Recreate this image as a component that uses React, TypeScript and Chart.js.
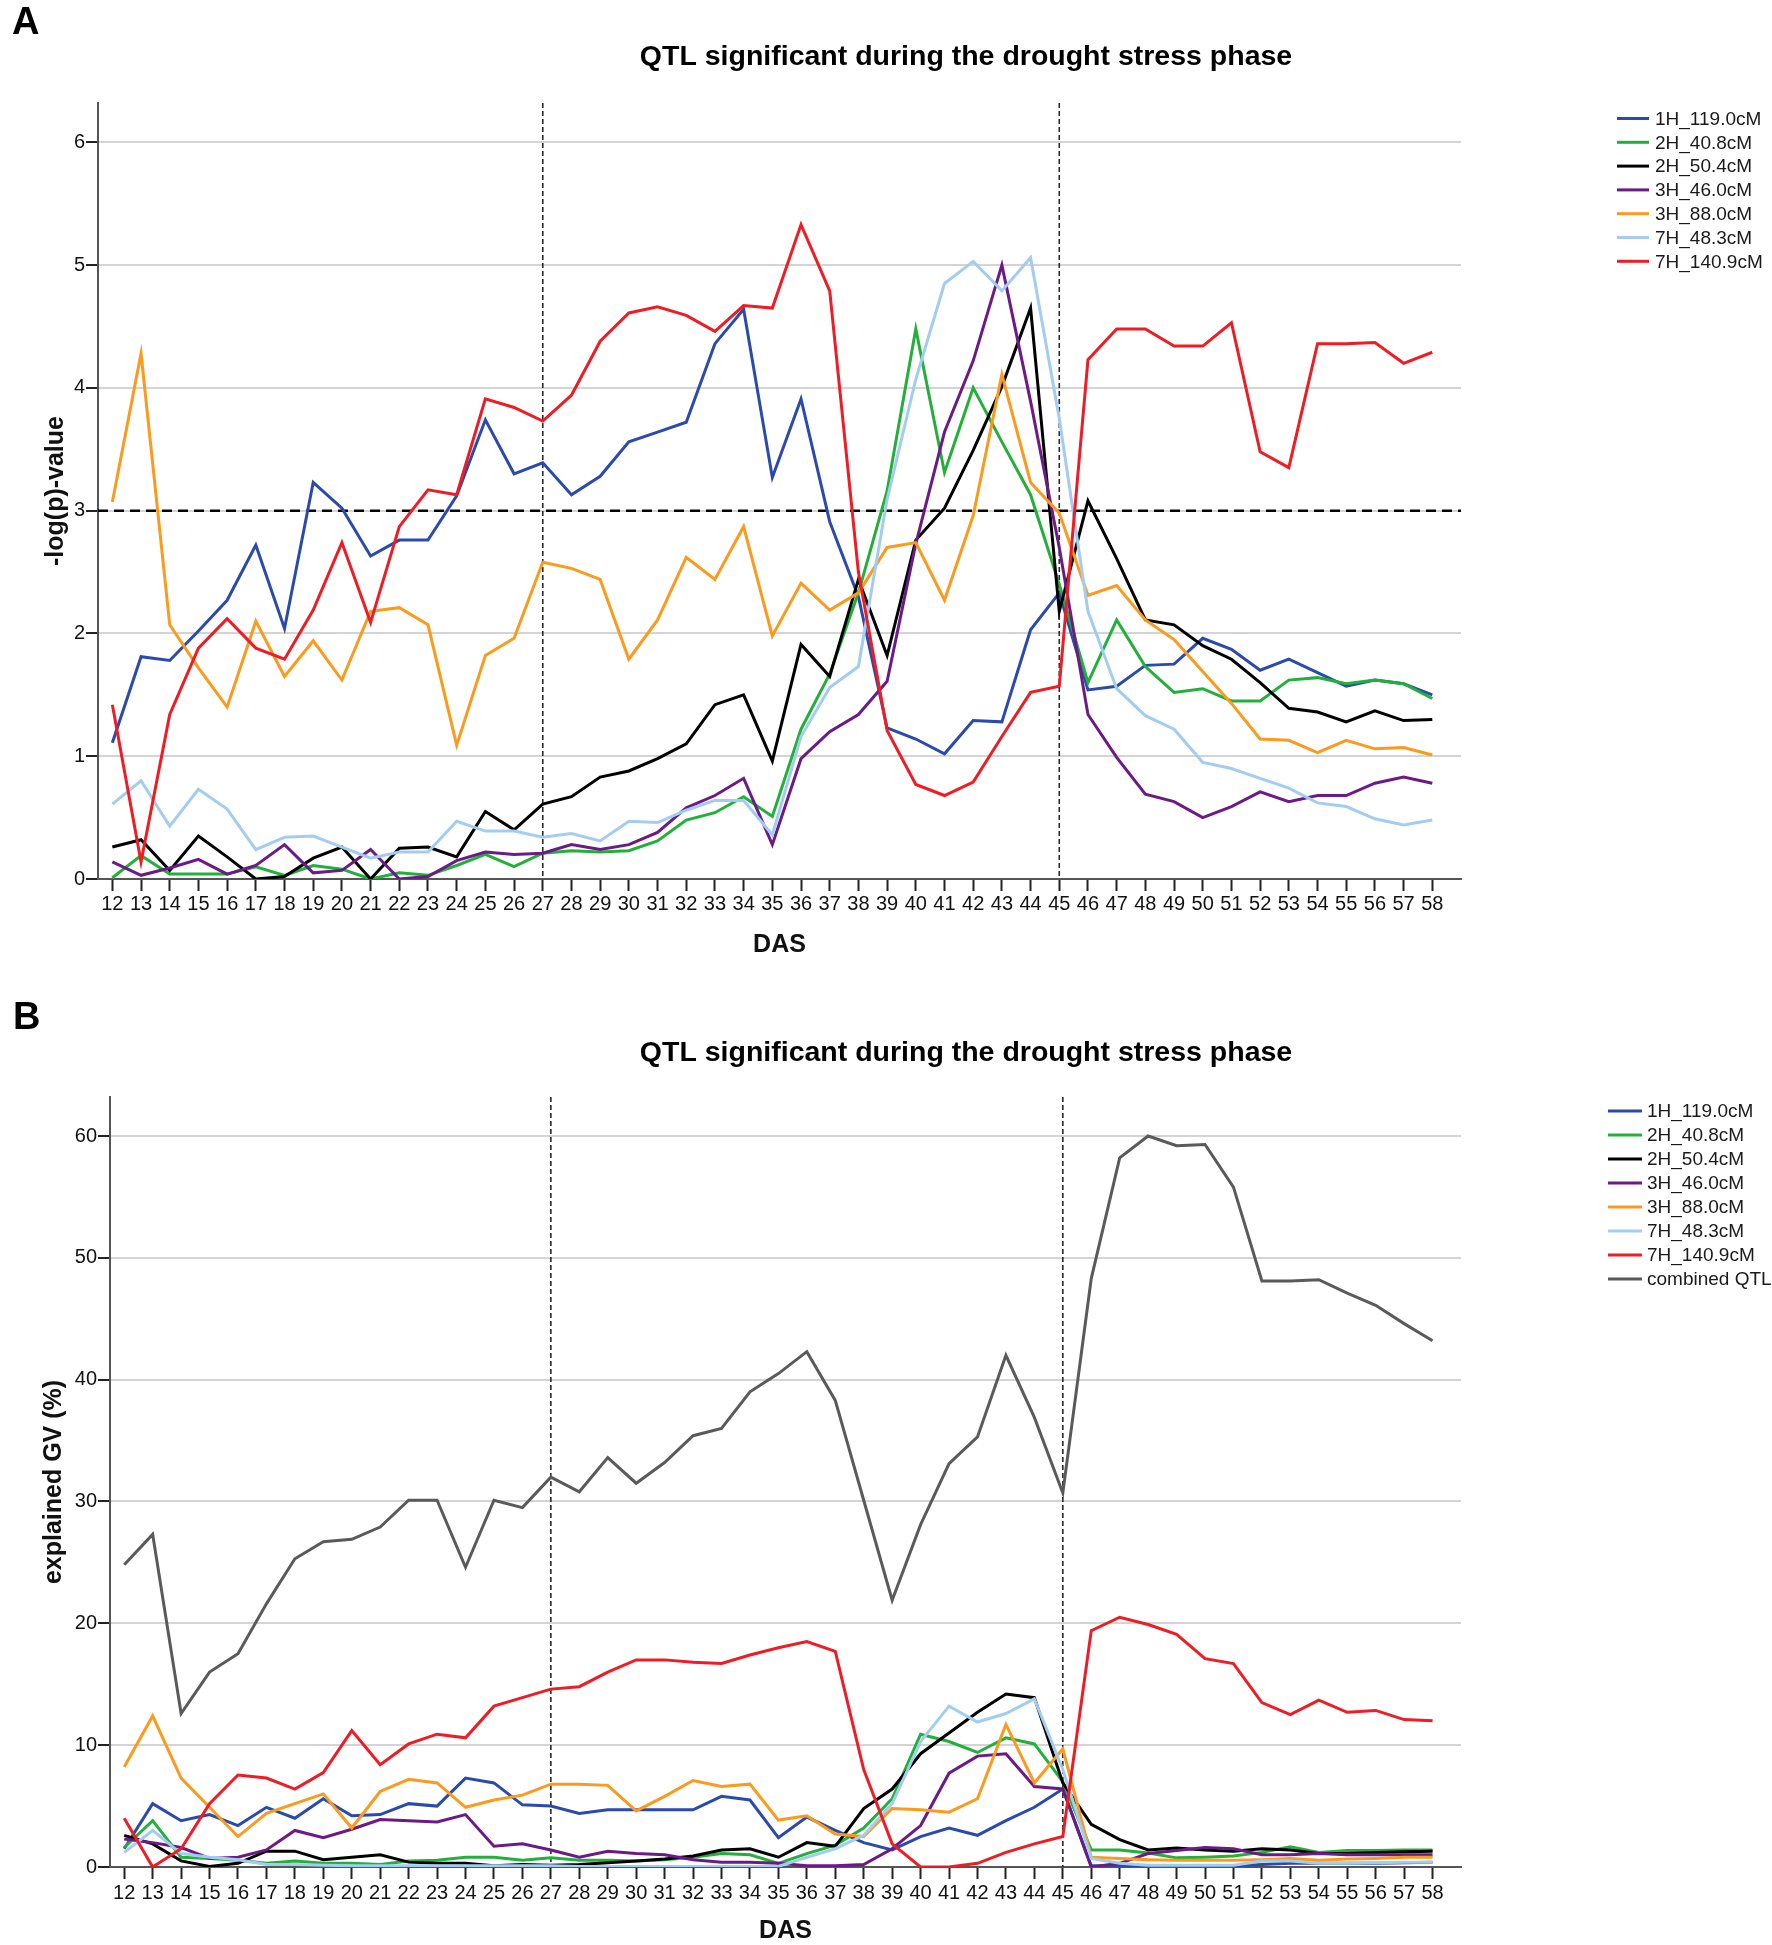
import React, { useEffect, useRef } from "react";
import { Chart, registerables } from "chart.js";

Chart.register(...registerables);

const FONT = "'Liberation Sans', Arial, Helvetica, sans-serif";

// ---------- categories / ticks ----------
const DAYS = [
  12, 13, 14, 15, 16, 17, 18, 19, 20, 21, 22, 23, 24, 25, 26, 27, 28, 29, 30, 31, 32, 33, 34, 35,
  36, 37, 38, 39, 40, 41, 42, 43, 44, 45, 46, 47, 48, 49, 50, 51, 52, 53, 54, 55, 56, 57, 58,
];
const Y_TICKS_A = [0, 1, 2, 3, 4, 5, 6];
const Y_TICKS_B = [0, 10, 20, 30, 40, 50, 60];
const PHASE_LINES = [27, 45];
const THRESHOLD_A = 3;

const NAMES_A = ["1H_119.0cM", "2H_40.8cM", "2H_50.4cM", "3H_46.0cM", "3H_88.0cM", "7H_48.3cM", "7H_140.9cM"];
const NAMES_B = [...NAMES_A, "combined QTL"];

const TITLE = "QTL significant during the drought stress phase";

// ---------- panel A: -log(p)-value ----------
const A_1H_119 = [
  1.11, 1.81, 1.78, 2.02, 2.27, 2.72, 2.04, 3.23, 3.02, 2.63,
  2.76, 2.76, 3.12, 3.74, 3.30, 3.39, 3.13, 3.28, 3.56, 3.64,
  3.72, 4.36, 4.64, 3.27, 3.91, 2.91, 2.30, 1.23, 1.14, 1.02,
  1.29, 1.28, 2.03, 2.33, 1.54, 1.57, 1.74, 1.75, 1.96, 1.87,
  1.70, 1.79, 1.68, 1.57, 1.62, 1.59, 1.50,
];
const A_2H_408 = [
  0.01, 0.19, 0.04, 0.04, 0.04, 0.10, 0.03, 0.11, 0.08, 0.0,
  0.05, 0.03, 0.11, 0.20, 0.10, 0.21, 0.23, 0.22, 0.23, 0.31,
  0.48, 0.54, 0.67, 0.51, 1.22, 1.67, 2.33, 3.16, 4.48, 3.31,
  4.0, 3.56, 3.13, 2.4, 1.60, 2.11, 1.73, 1.52, 1.55, 1.45,
  1.45, 1.62, 1.64, 1.59, 1.62, 1.59, 1.47,
];
const A_2H_504 = [
  0.26, 0.32, 0.07, 0.35, 0.18, 0.0, 0.02, 0.17, 0.26, 0.0,
  0.25, 0.26, 0.18, 0.55, 0.40, 0.61, 0.67, 0.83, 0.88, 0.98,
  1.10, 1.42, 1.50, 0.96, 1.91, 1.65, 2.44, 1.82, 2.76, 3.02,
  3.49, 4.01, 4.65, 2.18, 3.08, 2.61, 2.11, 2.07, 1.90, 1.79,
  1.60, 1.39, 1.36, 1.28, 1.37, 1.29, 1.30,
];
const A_3H_460 = [
  0.14, 0.03, 0.09, 0.16, 0.04, 0.11, 0.28, 0.05, 0.07, 0.24,
  0.0, 0.02, 0.15, 0.22, 0.20, 0.21, 0.28, 0.24, 0.28, 0.38,
  0.58, 0.68, 0.82, 0.28, 0.98, 1.20, 1.34, 1.61, 2.73, 3.64,
  4.22, 5.0, 3.89, 2.7, 1.34, 0.99, 0.69, 0.63, 0.50, 0.59,
  0.71, 0.63, 0.68, 0.68, 0.78, 0.83, 0.78,
];
const A_3H_880 = [
  3.07, 4.28, 2.07, 1.72, 1.40, 2.10, 1.65, 1.94, 1.62, 2.18,
  2.21, 2.07, 1.09, 1.82, 1.96, 2.58, 2.53, 2.44, 1.79, 2.11,
  2.62, 2.44, 2.87, 1.98, 2.41, 2.19, 2.33, 2.70, 2.74, 2.27,
  2.96, 4.11, 3.23, 2.98, 2.31, 2.39, 2.11, 1.95, 1.69, 1.43,
  1.14, 1.13, 1.03, 1.13, 1.06, 1.07, 1.01,
];
const A_7H_483 = [
  0.61, 0.80, 0.43, 0.73, 0.57, 0.24, 0.34, 0.35, 0.26, 0.17,
  0.22, 0.22, 0.47, 0.39, 0.39, 0.34, 0.37, 0.31, 0.47, 0.46,
  0.56, 0.64, 0.64, 0.36, 1.16, 1.56, 1.73, 3.09, 4.07, 4.85,
  5.03, 4.79, 5.06, 3.75, 2.18, 1.55, 1.33, 1.22, 0.95, 0.90,
  0.82, 0.74, 0.62, 0.59, 0.49, 0.44, 0.48,
];
const A_7H_1409 = [
  1.42, 0.14, 1.34, 1.88, 2.12, 1.88, 1.79, 2.19, 2.74, 2.09,
  2.87, 3.17, 3.13, 3.91, 3.84, 3.73, 3.94, 4.38, 4.61, 4.66,
  4.59, 4.46, 4.67, 4.65, 5.33, 4.79, 2.50, 1.21, 0.77, 0.68,
  0.79, 1.16, 1.52, 1.57, 4.23, 4.48, 4.48, 4.34, 4.34, 4.53,
  3.48, 3.35, 4.36, 4.36, 4.37, 4.20, 4.29,
];

// ---------- panel B: explained GV (%) ----------
const B_1H_119 = [
  1.5, 5.2, 3.8, 4.3, 3.4, 4.9, 4.0, 5.6, 4.2, 4.3,
  5.2, 5.0, 7.3, 6.9, 5.1, 5.0, 4.4, 4.7, 4.7, 4.7,
  4.7, 5.8, 5.5, 2.4, 4.1, 3.0, 2.0, 1.4, 2.5, 3.2,
  2.6, 3.8, 4.9, 6.4, 0.1, 0.1, 0.1, 0.1, 0.1, 0.1,
  0.2, 0.3, 0.3, 0.3, 0.3, 0.35, 0.4,
];
const B_2H_408 = [
  1.6, 3.8, 0.8, 0.7, 0.55, 0.3, 0.5, 0.3, 0.3, 0.2,
  0.5, 0.55, 0.8, 0.8, 0.55, 0.75, 0.55, 0.55, 0.5, 0.6,
  0.8, 1.1, 1.0, 0.3, 1.1, 1.8, 3.2, 5.6, 10.9, 10.3,
  9.4, 10.6, 10.1, 7.0, 1.4, 1.4, 1.15, 0.75, 0.8, 0.9,
  1.2, 1.65, 1.2, 1.35, 1.35, 1.4, 1.4,
];
const B_2H_504 = [
  2.6, 1.9, 0.5, 0.05, 0.3, 1.3, 1.3, 0.6, 0.8, 1.0,
  0.4, 0.3, 0.3, 0.1, 0.2, 0.15, 0.2, 0.35, 0.5, 0.65,
  0.9, 1.4, 1.5, 0.8, 2.0, 1.7, 4.8, 6.4, 9.3, 11.0,
  12.7, 14.2, 13.9, 6.9, 3.5, 2.25, 1.4, 1.55, 1.4, 1.3,
  1.5, 1.4, 1.1, 1.1, 1.2, 1.25, 1.3,
];
const B_3H_460 = [
  2.3, 2.0, 1.6, 0.7, 0.8, 1.4, 3.0, 2.4, 3.1, 3.9,
  3.8, 3.7, 4.3, 1.7, 1.9, 1.4, 0.8, 1.3, 1.1, 1.0,
  0.6, 0.4, 0.4, 0.3, 0.1, 0.1, 0.2, 1.5, 3.4, 7.7,
  9.1, 9.3, 6.6, 6.4, 0.0, 0.3, 1.1, 1.35, 1.6, 1.5,
  1.0, 1.0, 1.1, 1.0, 1.0, 1.0, 1.0,
];
const B_3H_880 = [
  8.2, 12.4, 7.3, 4.9, 2.5, 4.4, 5.2, 6.0, 3.2, 6.2,
  7.2, 6.9, 4.9, 5.5, 5.9, 6.8, 6.8, 6.7, 4.6, 5.8,
  7.1, 6.6, 6.8, 3.85, 4.2, 2.7, 2.5, 4.8, 4.7, 4.5,
  5.6, 11.7, 6.9, 9.7, 0.8, 0.7, 0.6, 0.55, 0.55, 0.55,
  0.6, 0.7, 0.55, 0.65, 0.7, 0.8, 0.8,
];
const B_7H_483 = [
  1.2, 3.0, 1.1, 0.8, 0.6, 0.2, 0.2, 0.15, 0.1, 0.1,
  0.1, 0.1, 0.1, 0.1, 0.1, 0.1, 0.05, 0.05, 0.05, 0.05,
  0.05, 0.05, 0.05, 0.05, 0.8, 1.5, 2.6, 5.2, 10.3, 13.2,
  11.9, 12.6, 13.8, 8.0, 0.7, 0.3, 0.15, 0.15, 0.15, 0.15,
  0.5, 0.5, 0.3, 0.3, 0.35, 0.4, 0.4,
];
const B_7H_1409 = [
  4.0, 0.0, 1.5, 5.2, 7.55, 7.3, 6.4, 7.75, 11.2, 8.4,
  10.1, 10.9, 10.6, 13.2, 13.9, 14.6, 14.8, 16.0, 17.0, 17.0,
  16.8, 16.7, 17.4, 18.0, 18.5, 17.7, 8.0, 1.9, 0.0, 0.0,
  0.3, 1.2, 1.9, 2.5, 19.4, 20.5, 19.9, 19.1, 17.1, 16.7,
  13.5, 12.5, 13.7, 12.7, 12.85, 12.1, 12.0,
];
const B_COMBINED = [
  24.8, 27.3, 12.6, 16.0, 17.5, 21.6, 25.3, 26.7, 26.9, 27.9,
  30.1, 30.1, 24.6, 30.1, 29.5, 32.0, 30.8, 33.6, 31.5, 33.2,
  35.4, 36.0, 39.0, 40.5, 42.3, 38.3, 30.1, 21.9, 28.1, 33.1,
  35.3, 42.0, 36.9, 30.7, 48.3, 58.2, 60.0, 59.2, 59.3, 55.8,
  48.1, 48.1, 48.2, 47.1, 46.1, 44.6, 43.2,
];

const SERIES_A = [A_1H_119, A_2H_408, A_2H_504, A_3H_460, A_3H_880, A_7H_483, A_7H_1409];
const SERIES_B = [B_1H_119, B_2H_408, B_2H_504, B_3H_460, B_3H_880, B_7H_483, B_7H_1409, B_COMBINED];

// ---------- styles ----------
const COLORS = ["#2b4aab", "#22b03a", "#000000", "#6b1a86", "#fb9a1c", "#a3cdf0", "#ee1c25", "#5a5a5a"];

const decorPlugin = {
  id: "decor",
  beforeDatasetsDraw(chart: any, _args: any, opts: any) {
    const { ctx, chartArea } = chart;
    const xs = chart.scales.x;
    const ys = chart.scales.y;
    ctx.save();
    ctx.strokeStyle = "#2a2a2a";
    ctx.lineWidth = 1.6;
    ctx.setLineDash([5, 3]);
    for (const v of opts.vlines || []) {
      const px = xs.getPixelForValue(v);
      ctx.beginPath();
      ctx.moveTo(px, chartArea.top);
      ctx.lineTo(px, chartArea.bottom);
      ctx.stroke();
    }
    if (opts.hline != null) {
      const py = ys.getPixelForValue(opts.hline);
      ctx.strokeStyle = "#000";
      ctx.lineWidth = 2.5;
      ctx.setLineDash([10, 6]);
      ctx.beginPath();
      ctx.moveTo(chartArea.left, py);
      ctx.lineTo(chartArea.right, py);
      ctx.stroke();
    }
    ctx.restore();
  },
  afterDraw(chart: any, _args: any, opts: any) {
    const { ctx } = chart;
    ctx.save();
    ctx.fillStyle = "#000";
    ctx.textBaseline = "alphabetic";
    ctx.textAlign = "left";
    ctx.font = `bold 38px ${FONT}`;
    ctx.fillText(opts.panel, opts.panelX, opts.panelY);
    ctx.textAlign = "center";
    ctx.font = `bold 28.5px ${FONT}`;
    ctx.fillText(opts.title, opts.titleX, opts.titleY);
    // legend
    const L = opts.legend;
    ctx.textAlign = "left";
    ctx.textBaseline = "middle";
    ctx.font = `19px ${FONT}`;
    chart.data.datasets.forEach((ds: any, i: number) => {
      const y = L.top + i * L.step;
      ctx.strokeStyle = ds.borderColor;
      ctx.lineWidth = 3;
      ctx.setLineDash([]);
      ctx.beginPath();
      ctx.moveTo(L.x1, y);
      ctx.lineTo(L.x2, y);
      ctx.stroke();
      ctx.fillStyle = "#1a1a1a";
      ctx.fillText(ds.label, L.tx, y + 1);
    });
    ctx.restore();
  },
};

function makeConfig(p: any) {
  return {
    type: "line",
    data: {
      datasets: p.names.map((n: string, i: number) => ({
        label: n,
        data: DAYS.map((d, j) => ({ x: d, y: p.series[i][j] })),
        borderColor: COLORS[i],
        backgroundColor: COLORS[i],
        borderWidth: p.lineWidth,
        pointRadius: 0,
        tension: 0,
        fill: false,
        order: -i,
      })),
    },
    options: {
      responsive: false,
      animation: false,
      events: [],
      layout: { padding: { left: 0, top: p.top, right: p.right, bottom: 0 } },
      plugins: {
        legend: { display: false },
        tooltip: { enabled: false },
        title: { display: false },
        decor: p.decor,
      },
      scales: {
        x: {
          type: "linear",
          min: 11.5,
          max: 59,
          afterBuildTicks: (s: any) => {
            s.ticks = DAYS.map((v) => ({ value: v }));
          },
          afterFit: (s: any) => {
            s.height = p.xHeight;
          },
          grid: { drawOnChartArea: false, tickLength: 12, tickColor: "#222", tickWidth: 2 },
          border: { color: "#555", width: 2 },
          ticks: {
            autoSkip: false,
            maxRotation: 0,
            padding: p.xTickPad,
            color: "#111",
            font: { family: FONT, size: 20, lineHeight: 1.2 },
          },
          title: {
            display: true,
            text: "DAS",
            color: "#111",
            font: { family: FONT, size: 25, weight: "bold", lineHeight: p.xTitleLH },
            padding: { top: 0, bottom: p.xTitlePad },
          },
        },
        y: {
          min: 0,
          max: p.yMax,
          afterBuildTicks: (s: any) => {
            s.ticks = p.yTicks.map((v: number) => ({ value: v }));
          },
          afterFit: (s: any) => {
            s.width = p.yWidth;
          },
          grid: { color: "#d4d4d4", lineWidth: 2, tickLength: 12, tickColor: "#222", tickWidth: 2 },
          border: { color: "#555", width: 2 },
          ticks: {
            padding: 1,
            color: "#111",
            font: { family: FONT, size: 20, lineHeight: 1.2 },
          },
          title: {
            display: true,
            text: p.yTitle,
            color: "#111",
            font: { family: FONT, size: 25, weight: "bold", lineHeight: 1.2 },
            padding: { top: p.yTitlePad, bottom: 0 },
          },
        },
      },
    },
    plugins: [decorPlugin],
  };
}

const PANEL_A = {
  names: NAMES_A,
  series: SERIES_A,
  lineWidth: 3,
  top: 103,
  right: 311,
  xHeight: 93,
  xTickPad: 1,
  xTitleLH: 1.2,
  xTitlePad: 12,
  yMax: 6.32,
  yTicks: Y_TICKS_A,
  yWidth: 98,
  yTitle: "-log(p)-value",
  yTitlePad: 41,
  decor: {
    vlines: PHASE_LINES,
    hline: THRESHOLD_A,
    panel: "A",
    panelX: 12,
    panelY: 34,
    title: TITLE,
    titleX: 966,
    titleY: 65,
    legend: { top: 118.5, step: 23.8, x1: 1617, x2: 1649, tx: 1655 },
  },
};

const PANEL_B = {
  names: NAMES_B,
  series: SERIES_B,
  lineWidth: 3,
  top: 125,
  right: 311,
  xHeight: 78,
  xTickPad: 2,
  xTitleLH: 1.1,
  xTitlePad: 0,
  yMax: 63.2,
  yTicks: Y_TICKS_B,
  yWidth: 110,
  yTitle: "explained GV (%)",
  yTitlePad: 39,
  decor: {
    vlines: PHASE_LINES,
    hline: null,
    panel: "B",
    panelX: 13,
    panelY: 57,
    title: TITLE,
    titleX: 966,
    titleY: 89,
    legend: { top: 139, step: 24, x1: 1608, x2: 1642, tx: 1647 },
  },
};

function Panel({ cfg, height }: { cfg: any; height: number }) {
  const ref = useRef<HTMLCanvasElement | null>(null);
  useEffect(() => {
    if (!ref.current) return;
    const chart = new Chart(ref.current, makeConfig(cfg) as any);
    return () => chart.destroy();
  }, [cfg]);
  return <canvas ref={ref} width={1772} height={height} style={{ display: "block", width: 1772, height }} />;
}

export default function App() {
  return (
    <div style={{ position: "absolute", left: 0, top: 0, width: 1772, height: 1945, background: "#fff" }}>
      <Panel cfg={PANEL_A} height={972} />
      <Panel cfg={PANEL_B} height={973} />
    </div>
  );
}
